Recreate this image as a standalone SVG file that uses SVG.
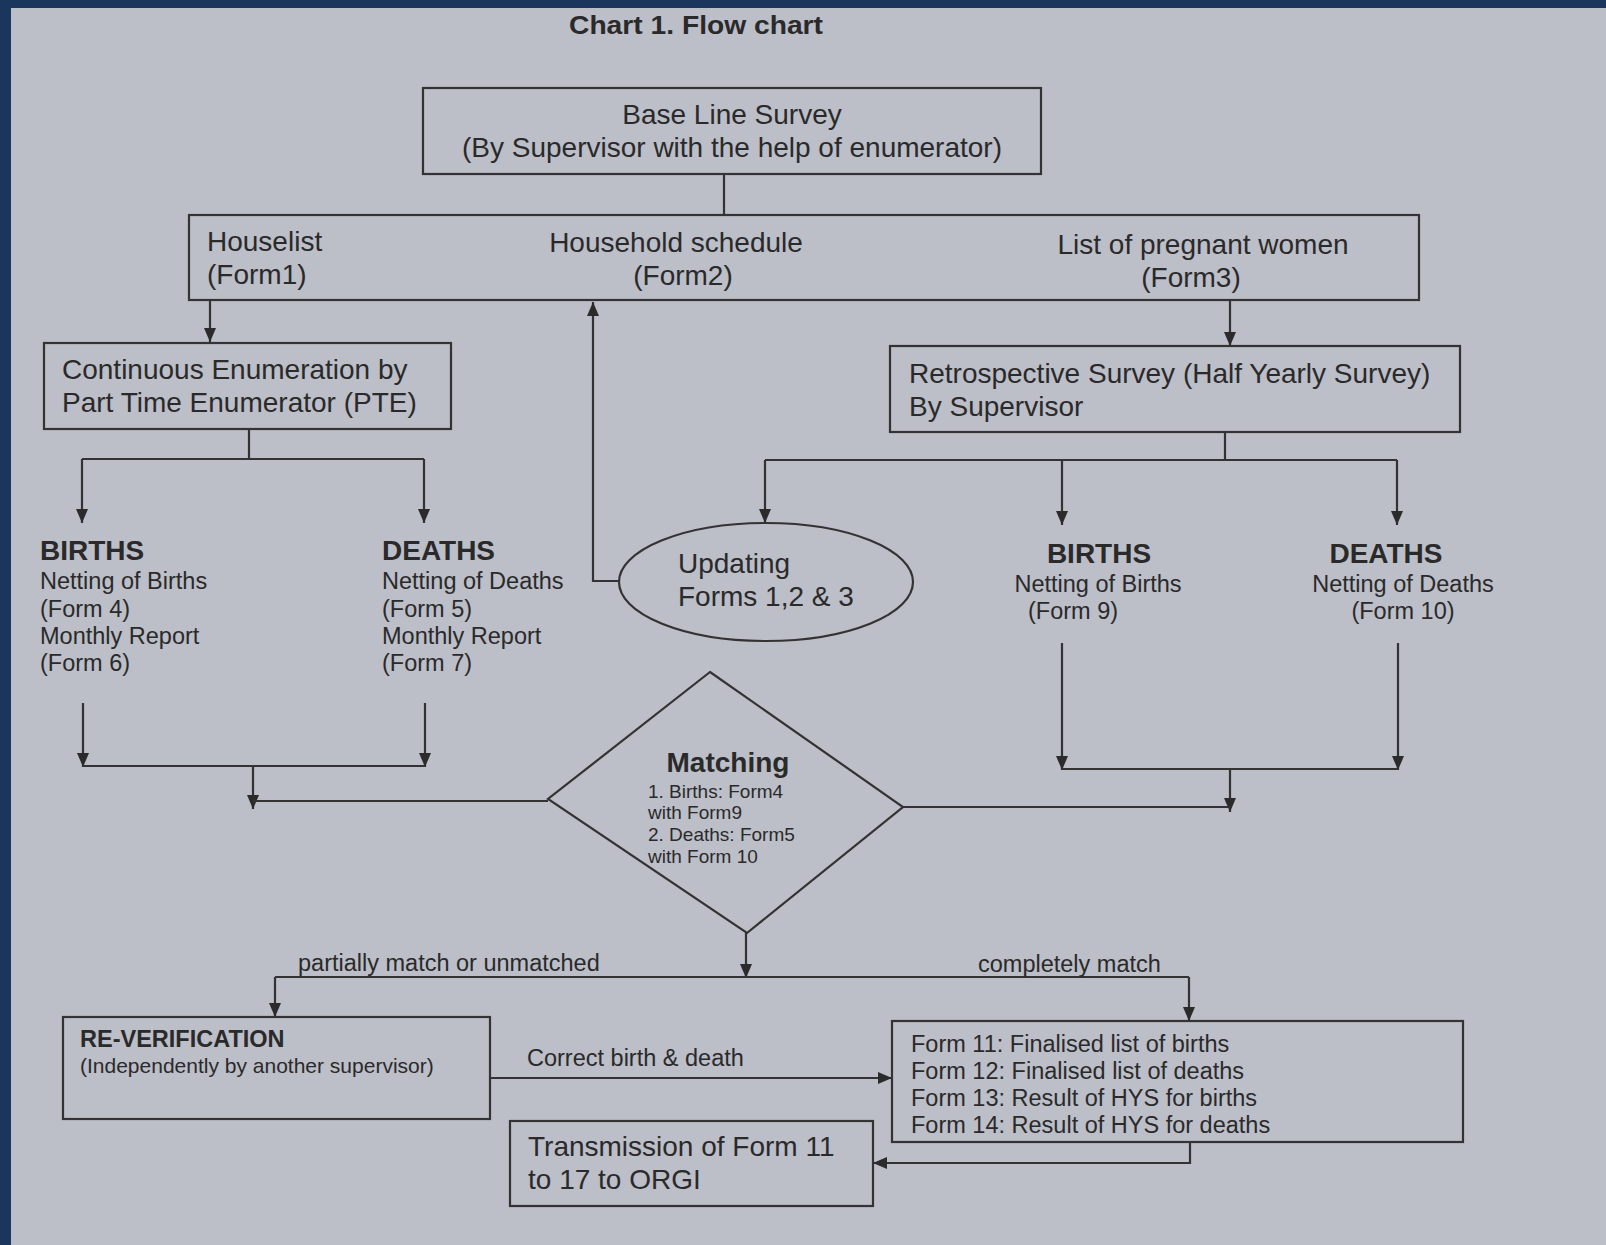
<svg xmlns="http://www.w3.org/2000/svg" width="1606" height="1245" viewBox="0 0 1606 1245">
<defs>
<marker id="arr" viewBox="0 0 14 12" refX="14" refY="6" markerWidth="14" markerHeight="12" markerUnits="userSpaceOnUse" orient="auto">
<path d="M0,0 L14,6 L0,12 z" fill="#2b2b2b"/>
</marker>
<style>
text{font-family:"Liberation Sans",Arial,sans-serif;fill:#2a2a2a}
.t28{font-size:28px}
.t23{font-size:23.5px}
.t19{font-size:19px}
.b{font-weight:bold}
.box{fill:none;stroke:#333;stroke-width:2.2}
.ln{fill:none;stroke:#333;stroke-width:2.2}
.ar{fill:none;stroke:#333;stroke-width:2.2;marker-end:url(#arr)}
.mid{text-anchor:middle}
</style>
</defs>
<rect x="0" y="0" width="1606" height="1245" fill="#1b365d"/>
<rect x="11" y="8" width="1595" height="1237" fill="#bcbec8"/>
<text x="696" y="34" class="b mid" font-size="26" textLength="254" lengthAdjust="spacingAndGlyphs">Chart 1. Flow chart</text>

<g id="connectors">
<line class="ln" x1="724" y1="174" x2="724" y2="215"/>
<line class="ar" x1="210" y1="300" x2="210" y2="342"/>
<line class="ar" x1="1230" y1="300" x2="1230" y2="346"/>
<polyline class="ln" points="249,429 249,459"/>
<polyline class="ln" points="82,459 424,459"/>
<line class="ar" x1="82" y1="459" x2="82" y2="523"/>
<line class="ar" x1="424" y1="459" x2="424" y2="523"/>
<polyline class="ar" points="619,581 593,581 593,302"/>
<line class="ln" x1="1225" y1="432" x2="1225" y2="460"/>
<line class="ln" x1="765" y1="460" x2="1397" y2="460"/>
<line class="ar" x1="765" y1="460" x2="765" y2="523"/>
<line class="ar" x1="1062" y1="460" x2="1062" y2="525"/>
<line class="ar" x1="1397" y1="460" x2="1397" y2="525"/>
<line class="ar" x1="83" y1="703" x2="83" y2="767"/>
<line class="ar" x1="425" y1="703" x2="425" y2="767"/>
<line class="ln" x1="83" y1="766" x2="425" y2="766"/>
<line class="ar" x1="253" y1="766" x2="253" y2="809"/>
<line class="ln" x1="548" y1="801" x2="253" y2="801"/>
<line class="ar" x1="1062" y1="643" x2="1062" y2="770"/>
<line class="ar" x1="1398" y1="643" x2="1398" y2="770"/>
<line class="ln" x1="1062" y1="769" x2="1398" y2="769"/>
<line class="ar" x1="1230" y1="769" x2="1230" y2="812"/>
<line class="ln" x1="903" y1="807" x2="1230" y2="807"/>
<line class="ar" x1="746" y1="933" x2="746" y2="978"/>
<line class="ln" x1="275" y1="977" x2="1189" y2="977"/>
<line class="ar" x1="275" y1="977" x2="275" y2="1017"/>
<line class="ar" x1="1189" y1="977" x2="1189" y2="1021"/>
<line class="ar" x1="490" y1="1078" x2="892" y2="1078"/>
<polyline class="ar" points="1190,1142 1190,1163 873,1163"/>
<text x="298" y="971" class="t23">partially match or unmatched</text>
<text x="978" y="972" class="t23">completely match</text>
<text x="527" y="1066" class="t23">Correct birth &amp; death</text>
</g>

<g id="baseline-survey">
<rect class="box" x="423" y="88" width="618" height="86"/>
<text x="732" y="124" class="t28 mid">Base Line Survey</text>
<text x="732" y="157" class="t28 mid">(By Supervisor with the help of enumerator)</text>
</g>

<g id="forms-1-3">
<rect class="box" x="189" y="215" width="1230" height="85"/>
<text x="207" y="251" class="t28">Houselist</text>
<text x="207" y="284" class="t28">(Form1)</text>
<text x="676" y="252" class="t28 mid">Household schedule</text>
<text x="683" y="285" class="t28 mid">(Form2)</text>
<text x="1203" y="254" class="t28 mid">List of pregnant women</text>
<text x="1191" y="287" class="t28 mid">(Form3)</text>
</g>

<g id="continuous-enumeration">
<rect class="box" x="44" y="343" width="407" height="86"/>
<text x="62" y="379" class="t28">Continuous Enumeration by</text>
<text x="62" y="412" class="t28">Part Time Enumerator (PTE)</text>
</g>

<g id="retrospective-survey">
<rect class="box" x="890" y="346" width="570" height="86"/>
<text x="909" y="383" class="t28">Retrospective Survey (Half Yearly Survey)</text>
<text x="909" y="416" class="t28">By Supervisor</text>
</g>

<g id="births-pte">
<text x="40" y="560" class="t28 b">BIRTHS</text>
<text x="40" y="589" class="t23">Netting of Births</text>
<text x="40" y="617" class="t23">(Form 4)</text>
<text x="40" y="644" class="t23">Monthly Report</text>
<text x="40" y="671" class="t23">(Form 6)</text>
</g>

<g id="deaths-pte">
<text x="382" y="560" class="t28 b">DEATHS</text>
<text x="382" y="589" class="t23">Netting of Deaths</text>
<text x="382" y="617" class="t23">(Form 5)</text>
<text x="382" y="644" class="t23">Monthly Report</text>
<text x="382" y="671" class="t23">(Form 7)</text>
</g>

<g id="updating">
<ellipse class="box" cx="766" cy="582" rx="147" ry="59"/>
<text x="678" y="573" class="t28">Updating</text>
<text x="678" y="606" class="t28">Forms 1,2 &amp; 3</text>
</g>

<g id="births-hys">
<text x="1099" y="563" class="t28 b mid">BIRTHS</text>
<text x="1098" y="592" class="t23 mid">Netting of Births</text>
<text x="1073" y="619" class="t23 mid">(Form 9)</text>
</g>

<g id="deaths-hys">
<text x="1386" y="563" class="t28 b mid">DEATHS</text>
<text x="1403" y="592" class="t23 mid">Netting of Deaths</text>
<text x="1403" y="619" class="t23 mid">(Form 10)</text>
</g>

<g id="matching">
<polygon class="box" points="710,672 903,807 747,933 548,799"/>
<text x="728" y="772" class="t28 b mid">Matching</text>
<text x="648" y="798" class="t19">1. Births: Form4</text>
<text x="648" y="819" class="t19">with Form9</text>
<text x="648" y="841" class="t19">2. Deaths: Form5</text>
<text x="648" y="863" class="t19">with Form 10</text>
</g>

<g id="re-verification">
<rect class="box" x="63" y="1017" width="427" height="102"/>
<text x="80" y="1047" class="t23 b">RE-VERIFICATION</text>
<text x="80" y="1073" font-size="21">(Independently by another supervisor)</text>
</g>

<g id="final-forms">
<rect class="box" x="892" y="1021" width="571" height="121"/>
<text x="911" y="1052" class="t23">Form 11: Finalised list of births</text>
<text x="911" y="1079" class="t23">Form 12: Finalised list of deaths</text>
<text x="911" y="1106" class="t23">Form 13: Result of HYS for births</text>
<text x="911" y="1133" class="t23">Form 14: Result of HYS for deaths</text>
</g>

<g id="transmission">
<rect class="box" x="510" y="1121" width="363" height="85"/>
<text x="528" y="1156" class="t28">Transmission of Form 11</text>
<text x="528" y="1189" class="t28">to 17 to ORGI</text>
</g>
</svg>
